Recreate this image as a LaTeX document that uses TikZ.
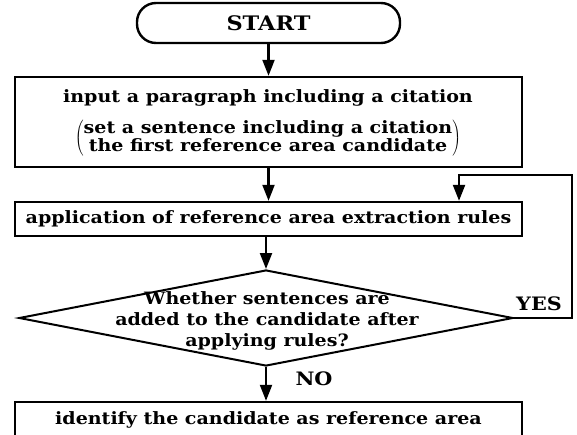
\documentclass[tikz,border=0pt]{standalone}
\usepackage{fontspec}
\setmainfont{DejaVu Serif}[FakeStretch=1.12]
\usetikzlibrary{arrows.meta,shapes.geometric}
\newcommand\txtfont{\fontsize{17}{17}\selectfont\bfseries}
\newcommand\dtxtfont{\fontsize{17}{21}\selectfont\bfseries}
\newcommand\bigtxtfont{\fontsize{20}{20}\selectfont\bfseries}
\newcommand\yntxtfont{\fontsize{18.5}{18.5}\selectfont\bfseries}
\begin{document}
\begin{tikzpicture}[x=1pt,y=-1pt,
  box/.style={draw, line width=2.4pt, minimum width=507pt, inner sep=0pt, font=\txtfont},
  term/.style={draw, line width=2.4pt, rounded corners=19pt, minimum width=263pt, minimum height=40pt, font=\bigtxtfont},
  dec/.style={draw, diamond, line width=2pt, minimum width=494pt, minimum height=96pt, inner sep=0pt},
  arr/.style={line width=2.2pt, -{Triangle[length=16pt,width=12pt]}},
  lbl/.style={font=\txtfont, inner sep=0pt},
  yn/.style={font=\yntxtfont, inner sep=0pt}]
\useasboundingbox (0,0) rectangle (577,434);
\clip (0,0) rectangle (577,434);
\fill[white] (0,0) rectangle (577,434);

\node[term] (start) at (268.5,23) {START};
\node[box, minimum height=90pt] (b1) at (268.5,122) {};
\node[lbl] (b1a) at (268,98) {input a paragraph including a citation};
\node[lbl] (b1b) at (268,138.5) {$\left(\vcenter{\hbox{\begin{tabular}{@{}c@{}}set a sentence including a citation\\the first reference area candidate\end{tabular}}}\right)$};
\node[box, minimum height=34pt] (b2) at (268.5,219) {application of reference area extraction rules};
\node[dec] (d) at (266,318) {};
\node[lbl, font=\dtxtfont, align=center] (dt) at (267,321) {Whether sentences are\\added to the candidate after\\applying rules?};
\node[box, minimum height=36pt] (b3) at (268.5,420) {identify the candidate as reference area};

\draw[arr] (start) -- (b1);
\draw[arr] (b1) -- (b2);
\draw[arr] (b2.south -| d.north) -- (d.north);
\draw[arr] (d.south) -- (b3.north -| d.south);
\coordinate (lc) at (572,175);
\coordinate (lx) at (459,175);
\draw[arr] (d.east) -| (lc) -- (lx) -- (lx |- b2.north);
\node[yn] (yes) at (539,304) {YES};
\node[yn] (no) at (314,379) {NO};
\end{tikzpicture}
\end{document}
